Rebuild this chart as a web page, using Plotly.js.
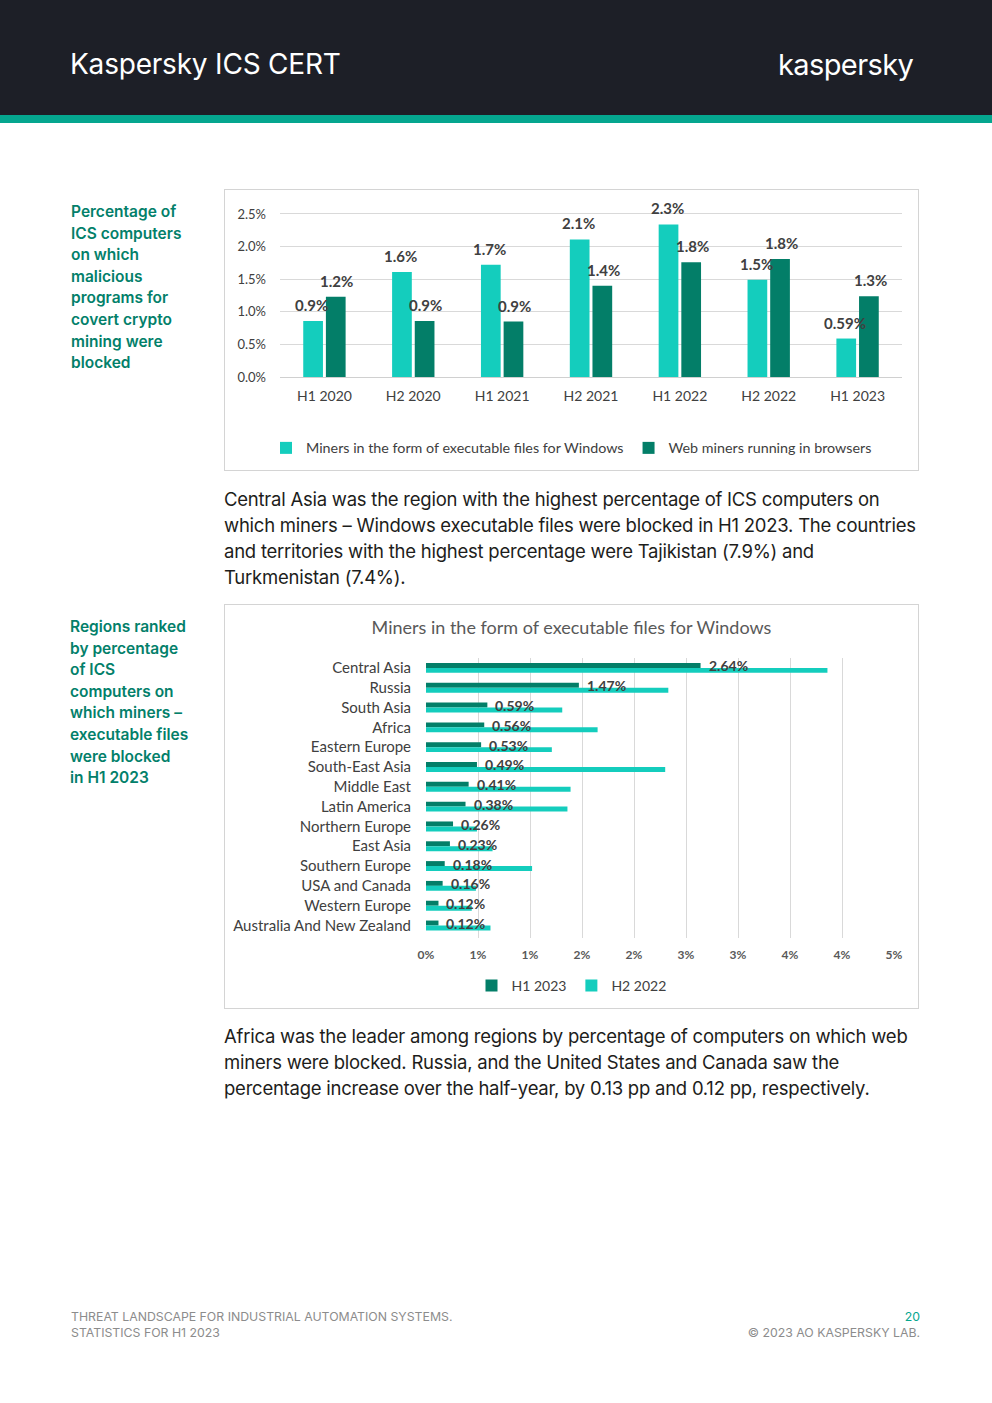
<!DOCTYPE html>
<html>
<head>
<meta charset="utf-8">
<script src="https://cdn.plot.ly/plotly-3.0.1.min.js"></script>
<style>
  html, body { margin:0; padding:0; background:#fff; }
  #page { position:relative; width:992px; height:1403px; overflow:hidden; background:#fff; font-family: Roboto, "Noto Sans", sans-serif; }
  .hdr { position:absolute; left:0; top:0; width:992px; height:115px; background:#1d1f27; }
  .stripe { position:absolute; left:0; top:115px; width:992px; height:8px; background:#05a68f; }
  .hdr-title { position:absolute; left:70px; top:47px; color:#fff; font-size:28px; font-family: Inter, Roboto, sans-serif; font-weight:400; letter-spacing:-0.2px; white-space:nowrap; }
  .logo { position:absolute; left:778px; top:47px; color:#fff; font-size:29px; font-family: Inter, Roboto, sans-serif; font-weight:400; letter-spacing:-0.6px; white-space:nowrap; }
  .side { position:absolute; left:71px; color:#03806a; font-size:15.5px; line-height:21.6px; font-weight:600; font-family: Inter, Roboto, sans-serif; white-space:nowrap; }
  .body { position:absolute; left:224px; color:#1d1d1b; font-size:18.5px; line-height:26px; font-family: Inter, Roboto, sans-serif; white-space:nowrap; letter-spacing:-0.24px; }
  .box { position:absolute; border:1px solid #d4d4d4; box-sizing:border-box; }
  .plot { position:absolute; }
  .foot { position:absolute; color:#8c8c8c; font-size:12.3px; line-height:16px; font-family: Inter, Roboto, sans-serif; white-space:nowrap; }
</style>
</head>
<body>
<div id="page">
  <div class="hdr"></div>
  <div class="stripe"></div>
  <div class="hdr-title">Kaspersky ICS CERT</div>
  <div class="logo">kaspersky</div>

  <div class="side" style="top:201px;">Percentage of<br>ICS computers<br>on which<br>malicious<br>programs for<br>covert crypto<br>mining were<br>blocked</div>

  <div class="box" style="left:224px; top:189px; width:695px; height:282px;"></div>
  <div class="plot" id="chart1" style="left:224px; top:189px; width:695px; height:281px;"></div>

  <div class="body" style="top:486px;">Central Asia was the region with the highest percentage of ICS computers on<br>which miners – Windows executable files were blocked in H1 2023. The countries<br>and territories with the highest percentage were Tajikistan (7.9%) and<br>Turkmenistan (7.4%).</div>

  <div class="side" style="top:616px; left:70px;">Regions ranked<br>by percentage<br>of ICS<br>computers on<br>which miners –<br>executable files<br>were blocked<br>in H1 2023</div>

  <div class="box" style="left:224px; top:604px; width:695px; height:405px;"></div>
  <div class="plot" id="chart2" style="left:224px; top:604px; width:695px; height:404px;"></div>

  <div class="body" style="top:1023px;">Africa was the leader among regions by percentage of computers on which web<br>miners were blocked. Russia, and the United States and Canada saw the<br>percentage increase over the half-year, by 0.13 pp and 0.12 pp, respectively.</div>

  <div class="foot" style="left:71px; top:1309px;">THREAT LANDSCAPE FOR INDUSTRIAL AUTOMATION SYSTEMS.<br>STATISTICS FOR H1 2023</div>
  <div class="foot" style="right:72px; top:1309px; text-align:right;"><span style="color:#05a68f;">20</span><br>© 2023 AO KASPERSKY LAB.</div>
</div>

<script>
// ---------- Chart 1 data ----------
const periods = ['H1 2020','H2 2020','H1 2021','H2 2021','H1 2022','H2 2022','H1 2023'];
const winMiners = [0.86, 1.61, 1.72, 2.11, 2.34, 1.49, 0.59];
const webMiners = [1.23, 0.86, 0.85, 1.40, 1.76, 1.81, 1.24];
const winLabels = ['0.9%','1.6%','1.7%','2.1%','2.3%','1.5%','0.59%'];
const webLabels = ['1.2%','0.9%','0.9%','1.4%','1.8%','1.8%','1.3%'];
const series1Names = ['Miners in the form of executable files for Windows', 'Web miners running in browsers'];
const yTickVals1 = [0, 0.5, 1.0, 1.5, 2.0, 2.5];
const yTickText1 = ['0.0%','0.5%','1.0%','1.5%','2.0%','2.5%'];

// ---------- Chart 2 data ----------
const regions = ['Central Asia','Russia','South Asia','Africa','Eastern Europe','South-East Asia','Middle East','Latin America','Northern Europe','East Asia','Southern Europe','USA and Canada','Western Europe','Australia And New Zealand'];
const h1_2023 = [2.64, 1.47, 0.59, 0.56, 0.53, 0.49, 0.41, 0.38, 0.26, 0.23, 0.18, 0.16, 0.12, 0.12];
const h2_2022 = [3.86, 2.33, 1.31, 1.65, 1.21, 2.30, 1.39, 1.36, 0.49, 0.64, 1.02, 0.48, 0.44, 0.62];
const series2Names = ['H1 2023', 'H2 2022'];
const xTickVals2 = [0, 0.5, 1.0, 1.5, 2.0, 2.5, 3.0, 3.5, 4.0, 4.5];
const xTickText2 = ['0%','1%','1%','2%','2%','3%','3%','4%','4%','5%'];
const chart2Title = 'Miners in the form of executable files for Windows';

const CYAN = '#14cdbd';
const DARK = '#037e68';
const FONT = '"Liberation Sans Narrow", Lato, "Open Sans", sans-serif';
const cfg = {staticPlot: true, displayModeBar: false};

// ---------- Chart 1 ----------
const ann1 = [];
periods.forEach((p, i) => {
  ann1.push({x: p, y: winMiners[i], xref: 'x', yref: 'y', text: winLabels[i], showarrow: false,
    xshift: -12.5, yshift: 5, yanchor: 'bottom', font: {family: FONT, size: 15, color: '#404040', weight: 'bold'}});
  ann1.push({x: p, y: webMiners[i], xref: 'x', yref: 'y', text: webLabels[i], showarrow: false,
    xshift: 12.5, yshift: 5, yanchor: 'bottom', font: {family: FONT, size: 15, color: '#404040', weight: 'bold'}});
});

Plotly.newPlot('chart1', [
  {type: 'bar', name: series1Names[0], x: periods, y: winMiners, marker: {color: CYAN}, hoverinfo: 'skip'},
  {type: 'bar', name: series1Names[1], x: periods, y: webMiners, marker: {color: DARK}, hoverinfo: 'skip'}
], {
  width: 695, height: 281,
  margin: {l: 56, r: 17, t: 18, b: 93},
  paper_bgcolor: 'rgba(0,0,0,0)', plot_bgcolor: 'rgba(0,0,0,0)',
  barmode: 'group', bargap: 0.49, bargroupgap: 0.13,
  font: {family: FONT, color: '#404040'},
  xaxis: {type: 'category', showgrid: false, zeroline: false, showline: false, ticks: '',
    tickfont: {family: FONT, size: 14, color: '#404040'}, ticklabelstandoff: 9},
  yaxis: {range: [0, 2.607], tickvals: yTickVals1, ticktext: yTickText1, showgrid: true, gridcolor: '#d9d9d9',
    zeroline: true, zerolinecolor: '#d0d0d0', zerolinewidth: 1, showline: false,
    tickfont: {family: FONT, size: 13, color: '#404040'}, ticklabelstandoff: 13},
  showlegend: true,
  legend: {orientation: 'h', xref: 'container', yref: 'container', x: 0.5, xanchor: 'center', y: 0.078, yanchor: 'middle',
    font: {family: FONT, size: 14.3, color: '#404040'}, itemwidth: 30, traceorder: 'normal'},
  annotations: ann1
}, cfg);

// ---------- Chart 2 ----------
const ann2 = regions.map((r, i) => ({
  x: h1_2023[i], y: r, xref: 'x', yref: 'y', text: h1_2023[i].toFixed(2) + '%', showarrow: false,
  xanchor: 'left', yanchor: 'middle', xshift: 6, yshift: 2,
  font: {family: FONT, size: 14, color: '#404040', weight: 'bold'}
}));

Plotly.newPlot('chart2', [
  {type: 'bar', orientation: 'h', name: series2Names[0], y: regions, x: h1_2023, marker: {color: DARK}, hoverinfo: 'skip'},
  {type: 'bar', orientation: 'h', name: series2Names[1], y: regions, x: h2_2022, marker: {color: CYAN}, hoverinfo: 'skip'}
], {
  width: 695, height: 404,
  margin: {l: 202, r: 25, t: 54, b: 70},
  paper_bgcolor: 'rgba(0,0,0,0)', plot_bgcolor: 'rgba(0,0,0,0)',
  barmode: 'group', bargap: 0.5, bargroupgap: 0,
  font: {family: FONT, color: '#404040'},
  title: {text: chart2Title, x: 0.5, xanchor: 'center', y: 1 - 24/404, yanchor: 'middle', yref: 'container',
    font: {family: FONT, size: 18, color: '#595959'}},
  xaxis: {range: [0, 4.5], tickvals: xTickVals2, ticktext: xTickText2, showgrid: true, gridcolor: '#d9d9d9',
    zeroline: false, showline: false, tickfont: {family: FONT, size: 12, color: '#595959', weight: 'bold'}, ticklabelstandoff: 8},
  yaxis: {type: 'category', autorange: 'reversed', showgrid: false, zeroline: false, showline: false, ticks: '',
    tickfont: {family: FONT, size: 15, color: '#404040'}, ticklabelstandoff: 14},
  showlegend: true,
  legend: {orientation: 'h', xref: 'container', yref: 'container', x: 0.5, xanchor: 'center', y: 22/404, yanchor: 'middle',
    font: {family: FONT, size: 14, color: '#404040'}, itemwidth: 30, traceorder: 'normal'},
  annotations: ann2
}, cfg);
</script>
</body>
</html>
